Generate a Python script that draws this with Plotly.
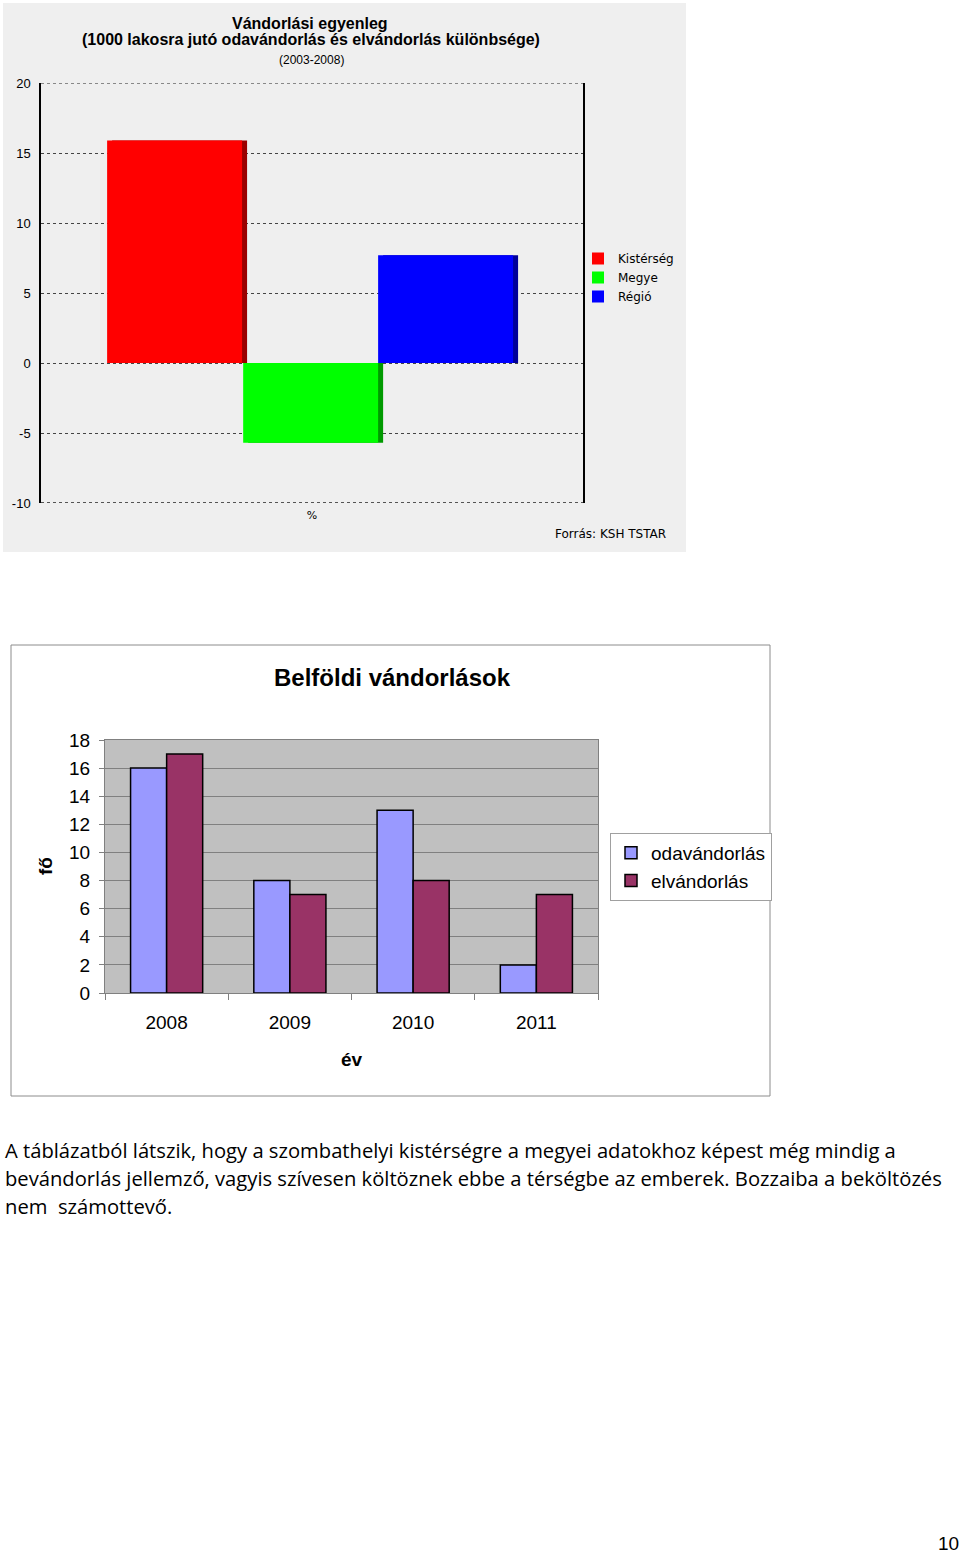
import plotly.graph_objects as go

W, H = 960, 1555

# ---------- data: top chart (Vándorlási egyenleg 2003-2008) ----------
top_series = ["Kistérség", "Megye", "Régió"]
top_values = [15.9, -5.7, 7.7]
top_colors = ["#ff0000", "#00ff00", "#0000ff"]
top_shadow = ["#9a0000", "#009a00", "#00009a"]
top_category = ["%"]
top_yticks = [20, 15, 10, 5, 0, -5, -10]

# ---------- data: bottom chart (Belföldi vándorlások) ----------
years = ["2008", "2009", "2010", "2011"]
odavandorlas = [16, 8, 13, 2]
elvandorlas = [17, 7, 8, 7]
bottom_yticks = [0, 2, 4, 6, 8, 10, 12, 14, 16, 18]

paragraph = [
    "A táblázatból látszik, hogy a szombathelyi kistérségre a megyei adatokhoz képest még mindig a",
    "bevándorlás jellemző, vagyis szívesen költöznek ebbe a térségbe az emberek. Bozzaiba a beköltözés",
    "nem  számottevő.",
]


def px_x(p):
    return p / W


def px_y(p):
    return 1 - p / H


fig = go.Figure()

# --- top chart bars: shadows first, then main bars ---
bw = 0.249
offsets = [-0.378, -0.127, 0.122]
shift = 5 / 542
for name, v, c, off in zip(top_series, top_values, top_shadow, offsets):
    fig.add_trace(go.Bar(x=top_category, y=[v], marker=dict(color=c, line=dict(width=0)),
                         width=bw, offset=off + shift, showlegend=False,
                         xaxis="x", yaxis="y", hoverinfo="skip"))
for name, v, c, off in zip(top_series, top_values, top_colors, offsets):
    fig.add_trace(go.Bar(x=top_category, y=[v], name=name,
                         marker=dict(color=c, line=dict(width=0)),
                         width=bw, offset=off, legend="legend",
                         xaxis="x", yaxis="y"))

# --- bottom chart bars ---
fig.add_trace(go.Bar(x=years, y=odavandorlas, name="odavándorlás",
                     marker=dict(color="#9999ff", line=dict(color="#000000", width=1.5)),
                     xaxis="x2", yaxis="y2", legend="legend2"))
fig.add_trace(go.Bar(x=years, y=elvandorlas, name="elvándorlás",
                     marker=dict(color="#993366", line=dict(color="#000000", width=1.5)),
                     xaxis="x2", yaxis="y2", legend="legend2"))

shapes = [
    # top chart panel background
    dict(type="rect", xref="paper", yref="paper", x0=px_x(3), x1=px_x(686),
         y0=px_y(552), y1=px_y(3), fillcolor="#efefef", line=dict(width=0), layer="below"),
    # bottom chart frame
    dict(type="rect", xref="paper", yref="paper", x0=px_x(11), x1=px_x(770),
         y0=px_y(1096), y1=px_y(645), fillcolor="#ffffff",
         line=dict(color="#8c8c8c", width=1), layer="below"),
    # top chart: dotted top/bottom borders at the range ends
    dict(type="line", xref="x domain", yref="y", x0=0, x1=1, y0=max(top_yticks), y1=max(top_yticks),
         line=dict(color="#222222", width=1, dash="dot")),
    dict(type="line", xref="x domain", yref="y", x0=0, x1=1, y0=min(top_yticks), y1=min(top_yticks),
         line=dict(color="#222222", width=1.5, dash="dot")),
]

narrow = "Liberation Sans Narrow, Arial Narrow, Liberation Sans, Arial"
annotations = [
    dict(text="<b>Vándorlási egyenleg</b>", x=px_x(310), y=px_y(23), font=dict(family=narrow, size=16, color="#000")),
    dict(text="<b>(1000 lakosra jutó odavándorlás és elvándorlás különbsége)</b>", x=px_x(311), y=px_y(40),
         font=dict(family=narrow, size=16, color="#000")),
    dict(text="(2003-2008)", x=px_x(311), y=px_y(60), font=dict(family="Liberation Sans, Arial", size=12, color="#000")),
    dict(text="Forrás: KSH TSTAR", x=px_x(610), y=px_y(534), font=dict(family="DejaVu Sans, Tahoma", size=12, color="#000")),
    dict(text="<b>Belföldi vándorlások</b>", x=px_x(392), y=px_y(677), font=dict(family="Liberation Sans, Arial", size=24, color="#000")),
    dict(text="<b>év</b>", x=px_x(352), y=px_y(1059), font=dict(family="Liberation Sans, Arial", size=19, color="#000")),
    dict(text="<b>fő</b>", x=px_x(45), y=px_y(866), textangle=-90, font=dict(family="Liberation Sans, Arial", size=19, color="#000")),
    dict(text="10", x=px_x(948), y=px_y(1543), font=dict(family="Liberation Sans, Arial", size=19, color="#000")),
]
for a in annotations:
    a.update(xref="paper", yref="paper", showarrow=False, xanchor="center", yanchor="middle")

for i, line in enumerate(paragraph):
    annotations.append(dict(text=line, xref="paper", yref="paper", x=px_x(3), y=px_y(1150 + 28 * i),
                            xanchor="left", yanchor="middle", showarrow=False,
                            font=dict(family="Open Sans", size=20.2, color="#000")))

fig.update_layout(
    width=W, height=H,
    margin=dict(l=0, r=0, t=0, b=0, pad=0, autoexpand=False),
    paper_bgcolor="#ffffff",
    plot_bgcolor="rgba(0,0,0,0)",
    barmode="group", bargap=0.415, bargroupgap=0,
    shapes=shapes, annotations=annotations,
    xaxis=dict(domain=[px_x(41), px_x(583)], range=[-0.5, 0.5], type="category",
               showgrid=False, zeroline=False, showline=False, ticks="", automargin=False,
               tickfont=dict(family="DejaVu Sans, Tahoma", size=11, color="#000"),
               ticklabelstandoff=4, anchor="y", fixedrange=True),
    yaxis=dict(domain=[px_y(503), px_y(83)], range=[-10, 20], tickvals=top_yticks,
               ticktext=[str(v) for v in top_yticks], automargin=False,
               showgrid=True, gridcolor="#444444", griddash="dot", gridwidth=1,
               zeroline=False, showline=True, linecolor="#000000", linewidth=1.5, mirror=True,
               ticks="", ticklabelstandoff=6,
               tickfont=dict(family="Liberation Sans, Arial", size=13, color="#000"),
               anchor="x"),
    xaxis2=dict(domain=[px_x(105), px_x(598)], type="category", anchor="y2", automargin=False,
                showgrid=False, zeroline=False, showline=True, linecolor="#808080", linewidth=1,
                mirror=True, ticks="outside", tickson="boundaries", ticklen=6, tickcolor="#808080",
                ticklabelstandoff=12,
                tickfont=dict(family="Liberation Sans, Arial", size=19, color="#000")),
    yaxis2=dict(domain=[px_y(993), px_y(740)], range=[0, 18], tickvals=bottom_yticks, anchor="x2",
                automargin=False,
                showgrid=True, gridcolor="#808080", gridwidth=1, zeroline=False,
                showline=True, linecolor="#808080", linewidth=1, mirror=True,
                ticks="outside", ticklen=5, tickcolor="#808080", ticklabelstandoff=5,
                tickfont=dict(family="Liberation Sans, Arial", size=19, color="#000")),
    legend=dict(x=px_x(578), y=px_y(244), xanchor="left", yanchor="top",
                bgcolor="rgba(0,0,0,0)", borderwidth=0, tracegroupgap=0,
                itemwidth=30, font=dict(family="DejaVu Sans, Tahoma", size=12, color="#000")),
    legend2=dict(x=px_x(610), y=px_y(833), xanchor="left", yanchor="top",
                 bgcolor="#ffffff", bordercolor="#a0a0a0", borderwidth=1,
                 itemwidth=30, font=dict(family="Liberation Sans, Arial", size=19, color="#000")),
)

# grey plot area for bottom chart
fig.add_shape(type="rect", xref="x2 domain", yref="y2 domain", x0=0, x1=1, y0=0, y1=1,
              fillcolor="#c0c0c0", line=dict(width=0), layer="below")

fig.write_html("out.html", config={"displayModeBar": False},
               post_script="document.body.style.margin='0';document.body.style.overflow='hidden';")
